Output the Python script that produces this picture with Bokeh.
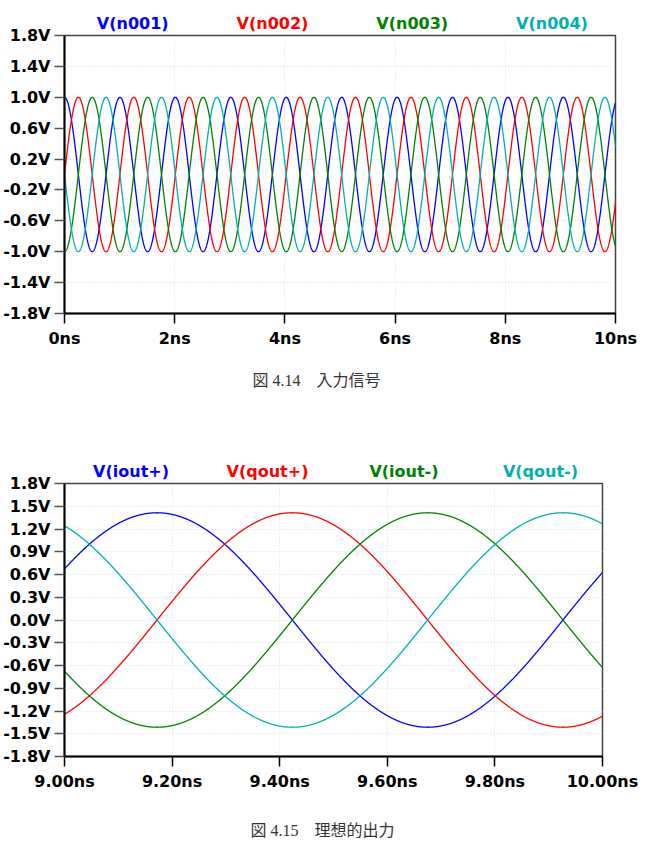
import numpy as np
from bokeh.plotting import figure
from bokeh.models import Range1d, FixedTicker, PrintfTickFormatter, ColumnDataSource
from bokeh.core.properties import value
from bokeh.embed import file_html
from bokeh.resources import INLINE

# ---- Fig 4.14: four-phase input drive, 0..10 ns ----
in_names = ["V(n001)", "V(n002)", "V(n003)", "V(n004)"]
in_amp_v = [1.0, 1.0, 1.0, 1.0]
in_peak_ns = [0.0, 0.2515, 0.503, 0.7545]      # time of first crest per phase
in_period_ns = 1.006
in_xticks = [0, 2, 4, 6, 8, 10]
in_yticks = [-1.8, -1.4, -1.0, -0.6, -0.2, 0.2, 0.6, 1.0, 1.4, 1.8]
in_caption = "図 4.14\u3000入力信号"

# ---- Fig 4.15: ideal polyphase outputs, 9..10 ns ----
out_names = ["V(iout+)", "V(qout+)", "V(iout-)", "V(qout-)"]
out_amp_v = [1.414, 1.414, 1.414, 1.414]
out_peak_ns = [9.172, 9.4235, 9.675, 9.9265]
out_period_ns = 1.006
out_xticks = [9.0, 9.2, 9.4, 9.6, 9.8, 10.0]
out_yticks = [-1.8, -1.5, -1.2, -0.9, -0.6, -0.3, 0.0, 0.3, 0.6, 0.9, 1.2, 1.5, 1.8]
out_caption = "図 4.15\u3000理想的出力"

trace_colors = ["#0000ff", "#ff0000", "#008000", "#00b0b0"]

W = 645
BORDER_LEFT = 62
TICK_FONT = "DejaVu Sans"


def text_strip(height):
    """Blank full-bleed strip used for the trace names and the figure captions."""
    p = figure(width=W, height=height, x_range=Range1d(0, W), y_range=Range1d(0, height),
               x_axis_type=None, y_axis_type=None, output_backend="svg",
               toolbar_location=None, min_border=0)
    p.outline_line_color = None
    p.background_fill_color = "white"
    p.border_fill_color = "white"
    return p


def legend_strip(names, border_right, height, y):
    p = text_strip(height)
    frame_w = W - BORDER_LEFT - border_right
    xs = [BORDER_LEFT + frame_w * (0.127 + 0.2527 * k) for k in range(len(names))]
    src = ColumnDataSource(dict(x=xs, y=[y] * len(names), t=names, c=trace_colors))
    p.text(x="x", y="y", text="t", text_color="c", source=src,
           text_align="center", text_baseline="middle",
           text_font=value(TICK_FONT), text_font_style="bold", text_font_size="16px")
    return p


def caption_strip(caption, height, x, y):
    p = text_strip(height)
    p.text(x=[x], y=[y], text=[caption], text_align="left", text_baseline="middle",
           text_font=value("Liberation Serif, Noto Sans CJK JP"),
           text_font_size="16px", text_color="#333333")
    return p


def waveform_panel(amps, peaks, period, t0, t1, xticks, yticks, xfmt, yfmt,
                   height, border_top, border_bottom, border_right, overlap):
    # the transparent top border slides up over the name strip above it
    p = figure(width=W, height=height,
               x_range=Range1d(t0, t1), y_range=Range1d(yticks[0], yticks[-1]),
               output_backend="svg", toolbar_location=None,
               min_border_left=BORDER_LEFT, min_border_right=border_right,
               min_border_top=border_top, min_border_bottom=border_bottom,
               margin=(-overlap, 0, 0, 0))
    p.background_fill_color = "white"
    p.border_fill_color = None
    p.outline_line_color = "#444444"
    p.outline_line_width = 1.5

    t = np.linspace(t0, t1, 3000)
    for amp, pk, c in zip(amps, peaks, trace_colors):
        v = amp * np.cos(2 * np.pi * (t - pk) / period)
        p.line(t, v, line_color=c, line_width=1.3)

    p.xaxis.ticker = FixedTicker(ticks=xticks)
    p.yaxis.ticker = FixedTicker(ticks=yticks)
    p.xgrid.ticker = FixedTicker(ticks=xticks)
    p.ygrid.ticker = FixedTicker(ticks=yticks)
    p.xaxis.formatter = PrintfTickFormatter(format=xfmt)
    p.yaxis.formatter = PrintfTickFormatter(format=yfmt)

    for ax in (p.xaxis, p.yaxis):
        ax.axis_line_color = "black"
        ax.axis_line_width = 2
        ax.major_tick_in = 0
        ax.major_tick_out = 10
        ax.minor_tick_in = 0
        ax.minor_tick_out = 0
        ax.major_label_text_font = TICK_FONT
        ax.major_label_text_font_style = "bold"
        ax.major_label_text_font_size = "16px"
        ax.major_label_text_color = "black"
    p.yaxis.major_tick_line_color = "#555555"
    p.yaxis.major_tick_line_width = 1.5
    p.xaxis.major_tick_line_color = "black"
    p.xaxis.major_tick_line_width = 1.5
    p.yaxis.major_label_standoff = 4
    p.xaxis.major_label_standoff = 5

    for g in (p.xgrid, p.ygrid):
        g.grid_line_color = "#dedede"
        g.grid_line_dash = "1 2"
        g.grid_line_width = 1
    return p


top_legend = legend_strip(in_names, border_right=30, height=35, y=12.5)
top = waveform_panel(in_amp_v, in_peak_ns, in_period_ns, 0, 10,
                     in_xticks, in_yticks, "%dns", "%.1fV",
                     height=330, border_top=13, border_bottom=39, border_right=30,
                     overlap=13)
top_caption = caption_strip(in_caption, height=78, x=252, y=50)

bottom_legend = legend_strip(out_names, border_right=43, height=52, y=11)
bottom = waveform_panel(out_amp_v, out_peak_ns, out_period_ns, 9.0, 10.0,
                        out_xticks, out_yticks, "%.2fns", "%.1fV",
                        height=334, border_top=17, border_bottom=44, border_right=43,
                        overlap=16)
bottom_caption = caption_strip(out_caption, height=60, x=250, y=30)

roots = [top_legend, top, top_caption, bottom_legend, bottom, bottom_caption]
open("out.html", "w").write(file_html(roots, INLINE))
